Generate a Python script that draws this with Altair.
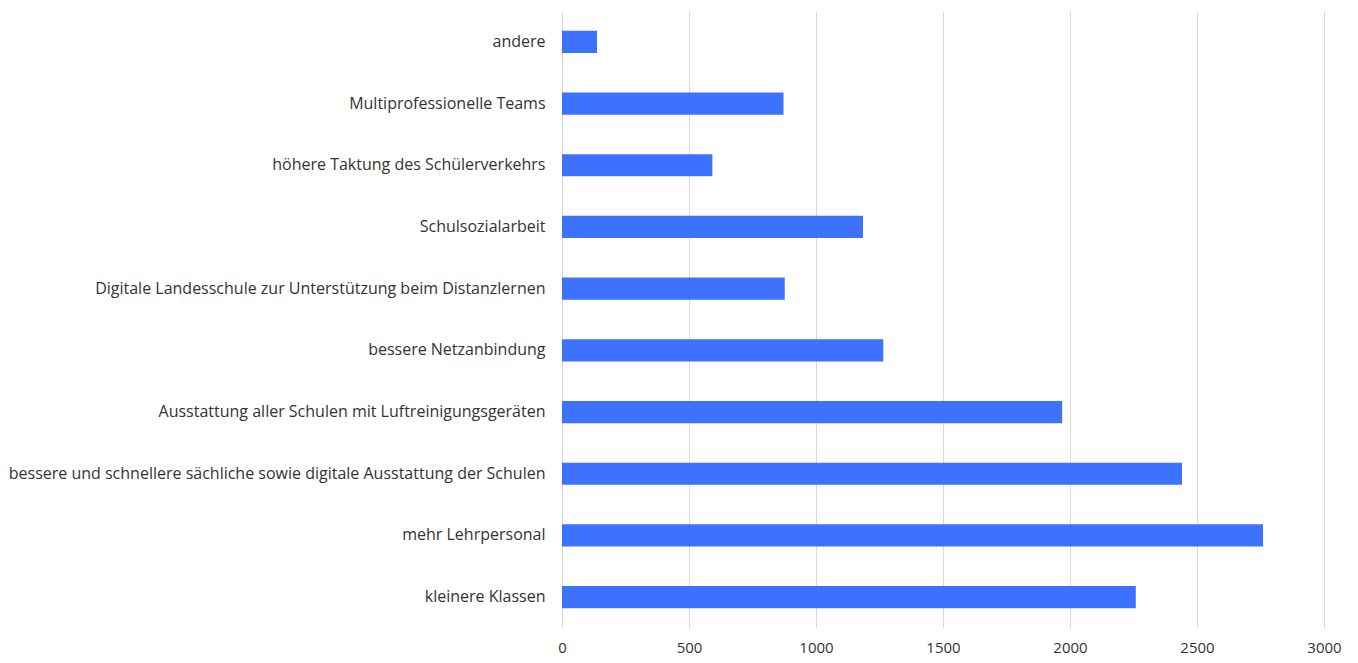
import altair as alt
import pandas as pd

categories = [
    "andere",
    "Multiprofessionelle Teams",
    "höhere Taktung des Schülerverkehrs",
    "Schulsozialarbeit",
    "Digitale Landesschule zur Unterstützung beim Distanzlernen",
    "bessere Netzanbindung",
    "Ausstattung aller Schulen mit Luftreinigungsgeräten",
    "bessere und schnellere sächliche sowie digitale Ausstattung der Schulen",
    "mehr Lehrpersonal",
    "kleinere Klassen",
]
values = [138, 872, 592, 1185, 877, 1265, 1969, 2441, 2760, 2259]
x_ticks = [0, 500, 1000, 1500, 2000, 2500, 3000]

df = pd.DataFrame({"Kategorie": categories, "Anzahl": values})

chart = (
    alt.Chart(df)
    .mark_bar(color="#3d72fe")
    .encode(
        x=alt.X(
            "Anzahl:Q",
            scale=alt.Scale(domain=[0, 3000], nice=False),
            axis=alt.Axis(
                title=None,
                values=x_ticks,
                format="d",
                grid=True,
                gridColor="#d9d9d9",
                gridWidth=1,
                domain=False,
                ticks=False,
                labelFlush=False,
                labelFont="Open Sans",
                labelFontSize=15,
                labelColor="#333333",
                labelPadding=12,
            ),
        ),
        y=alt.Y(
            "Kategorie:N",
            sort=categories,
            scale=alt.Scale(paddingInner=0.64, paddingOuter=0.32),
            axis=alt.Axis(
                title=None,
                grid=False,
                domain=False,
                ticks=False,
                labelFont="Open Sans",
                labelFontSize=16,
                labelColor="#333333",
                labelPadding=17,
                labelLimit=800,
            ),
        ),
    )
    .properties(
        width=762,
        height=617,
        background="white",
        padding={"left": 0, "top": 3, "right": 5, "bottom": 5},
    )
    .configure_view(stroke=None)
)

chart.save("out.html", embed_options={"renderer": "svg", "actions": False})
